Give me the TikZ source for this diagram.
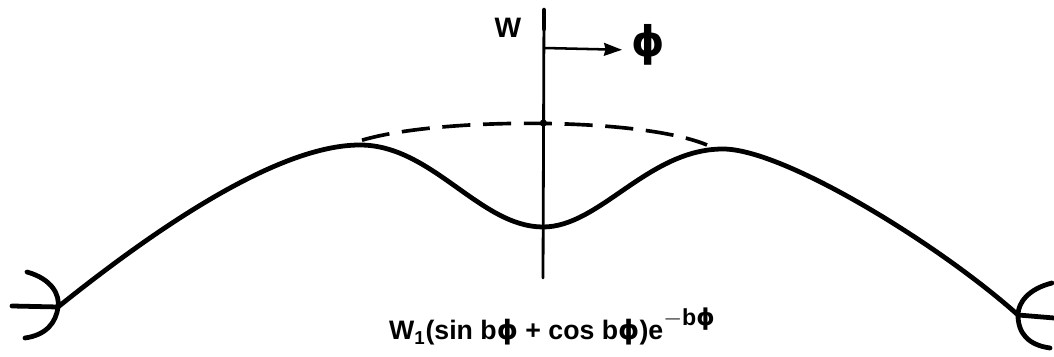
\documentclass[tikz,border=0pt]{standalone}
\usepackage{fontspec}
\setmainfont{Liberation Sans}
\newfontfamily\phifont{DejaVu Sans}
\usetikzlibrary{arrows.meta}
\newcommand\phig{{\phifont\bfseries ϕ}}

\begin{document}
\begin{tikzpicture}[x=1cm,y=1cm,>=Stealth,
  curveline/.style={line width=3.4pt,line cap=round,line join=round},
  axisline/.style={line width=2pt,line cap=round},
  lbl/.style={font=\bfseries\fontsize{19}{19}\selectfont,inner sep=0pt}]
\useasboundingbox (0,0) rectangle (26.35,8.925);
% ends of the shell, the two crests and the centre line
\coordinate (lend) at (1.45,1.25);
\coordinate (rend) at (25.45,1.05);
\coordinate (lpeak) at (9.0,5.3);
\coordinate (rpeak) at (18.075,5.2);
\coordinate (dipmin) at (13.575,3.25);
\coordinate (axtop) at (13.6,8.675);
\coordinate (axbot) at (13.575,1.975);
\coordinate (crown) at (13.585,5.85);
\coordinate (phifoot) at (13.6,7.725);
\coordinate (phitip) at (15.55,7.68);
\draw[axisline] (axtop)--(axbot);
\draw[line width=3.2pt,line cap=round] (axtop)--(13.6,8.2);
\fill (crown) circle (0.09);
\draw[line width=1.8pt,{Stealth[length=0.45cm,width=0.32cm,inset=0.04cm]}-]
  (phitip)--(phifoot);
% deflected shape
\draw[curveline] (lend) .. controls (4.5,3.7) and (7.2,5.3) .. (lpeak)
  .. controls (10.8,5.3) and (12.0,3.25) .. (dipmin)
  .. controls (15.0,3.25) and (16.2,5.2) .. (rpeak)
  .. controls (19.6,5.2) and (23.5,2.8) .. (rend);
% undeflected crown, dashed
\draw[line width=2.6pt,dash pattern=on 20pt off 9pt]
  (9.05,5.42) .. controls (11,6.0) and (16,6.0) .. (17.675,5.3);
% supports at both ends
\draw[curveline] (0.675,2.125) .. controls (1.3,1.95) and (1.5,1.55) .. (lend)
  .. controls (1.4,0.85) and (1.15,0.55) .. (0.625,0.475);
\draw[curveline] (0.3,1.275)--(lend);
\draw[curveline] (26.3,1.85) .. controls (25.7,1.7) and (25.45,1.35) .. (rend)
  .. controls (25.45,0.6) and (25.7,0.3) .. (26.25,0.225);
\draw[curveline] (rend)--(26.35,0.975);
\node[lbl,font=\bfseries\fontsize{20}{20}\selectfont] (wlab) at (12.7,8.225) {W};
\node[lbl,font=\fontsize{30}{30}\selectfont] (philab) at (16.2,7.8) {\phig};
\node[lbl,anchor=base] (form) at (13.8,0.425)
  {W\textsubscript{1}(sin b\phig\ + cos b\phig)e\raisebox{0.55em}{\fontsize{16.5}{16.5}\selectfont $-$b\phig}};
\end{tikzpicture}
\end{document}
